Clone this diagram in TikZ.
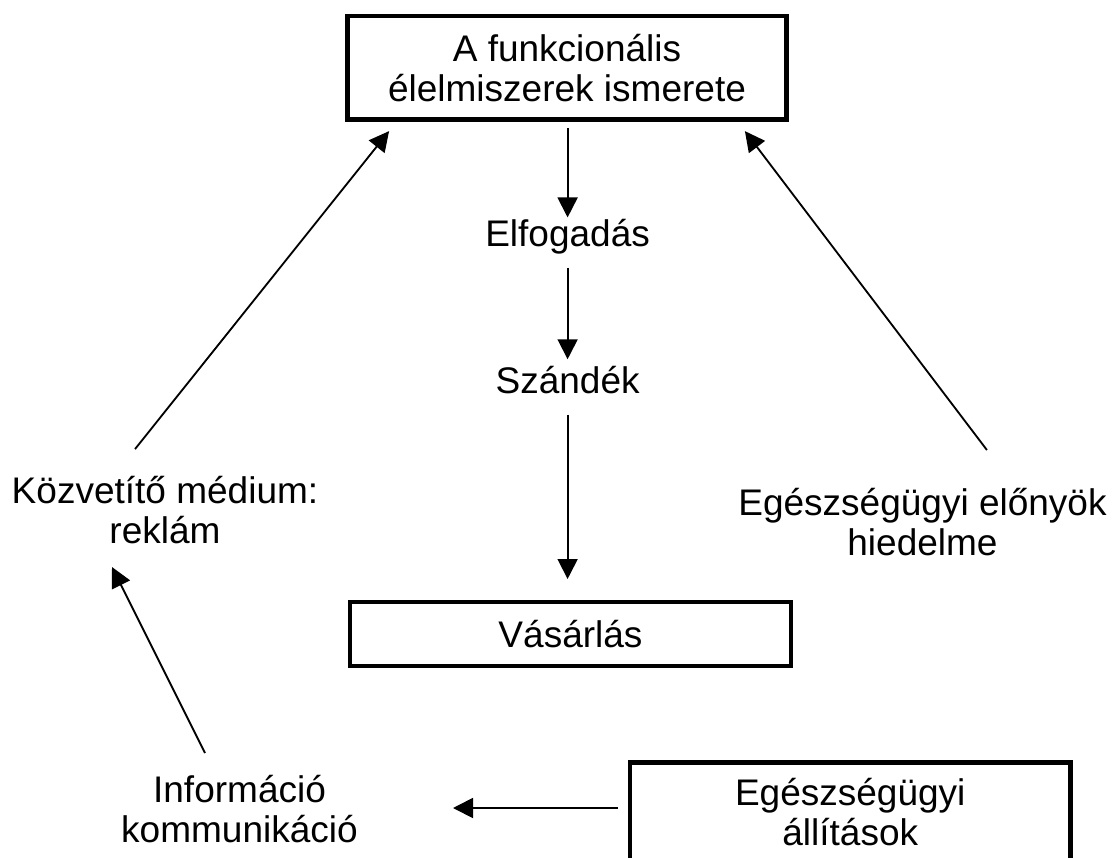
\documentclass[tikz,border=0pt]{standalone}
\usepackage{fontspec}
\setmainfont{Liberation Sans}
\usetikzlibrary{arrows.meta}

\begin{document}
\begin{tikzpicture}[
    box/.style = {draw, line width=3.2pt, align=center, inner sep=0pt, outer sep=0pt},
    txt/.style = {align=center, inner sep=0pt, outer sep=0pt},
    stage/.style = {text height=0.75em, text depth=0.25em, inner sep=0.45cm, outer sep=0pt},
    arr/.style = {line width=1.3pt, -{Triangle[length=0.5cm, width=0.5cm]}},
    font=\fontsize{26.33}{28.45}\selectfont]
    \useasboundingbox (0,0) rectangle (27.8,-21.45);

    % Cajas
    \node[box, minimum width=10.975cm, minimum height=2.5875cm] (ismeret) at (14.175,-1.694) {A funkcionális\\élelmiszerek ismerete};
    \node[box, minimum width=11.025cm, minimum height=1.6cm] (vasarlas) at (14.2625,-15.85) {Vásárlás};
    \node[box, minimum width=11cm, minimum height=2.49cm] (allitasok) at (21.256,-20.3075) {Egészségügyi\\állítások};

    % Centro
    \node[stage, anchor=base] (elfogadas) at (14.19,-6.15) {Elfogadás};
    \node[stage, anchor=base] (szandek) at (14.19,-9.825) {Szándék};

    % Lados
    \node[txt] (media) at (4.125,-12.758) {Közvetítő médium:\\reklám};
    \node[txt] (hiedelem) at (23.0625,-13.045) {Egészségügyi előnyök\\hiedelme};
    \node[txt] (informacio) at (5.9875,-20.22) {Információ\\kommunikáció};

    % Conexiones
    \draw[arr, shorten <=0.21cm] (ismeret.south -| elfogadas.north) -- (elfogadas.north);
    \draw[arr, shorten >=0.13cm] (elfogadas) -- (szandek);
    \draw[arr, shorten >=0.575cm] (szandek.south) -- (vasarlas.north -| szandek.south);
    \draw[arr] ([shift={(-0.75,1.53)}]media.center) -- ([shift={(1.04,-0.29)}]ismeret.south west);
    \draw[arr] ([shift={(1.61,1.795)}]hiedelem.center) -- ([shift={(-1.04,-0.29)}]ismeret.south east);
    \draw[arr] ([shift={(-0.8625,1.395)}]informacio.center) -- ([shift={(-1.325,-1.4175)}]media.center);
    \draw[arr] ([shift={(-0.3,0.1075)}]allitasok.west) -- ([shift={(5.3375,0.02)}]informacio.center);
\end{tikzpicture}
\end{document}
